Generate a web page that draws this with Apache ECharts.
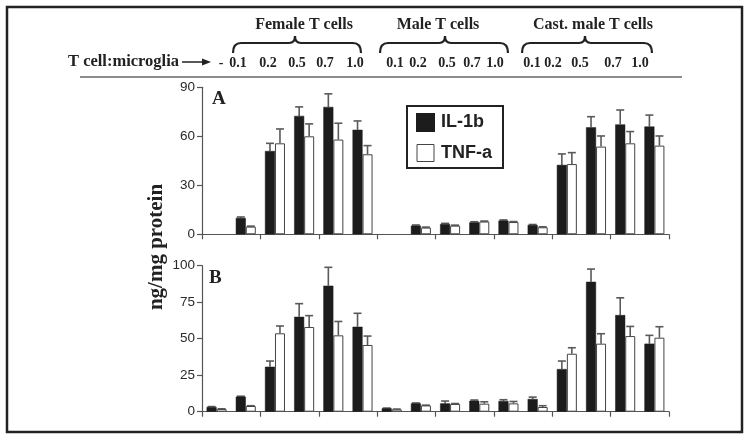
<!DOCTYPE html>
<html>
<head>
<meta charset="utf-8">
<script src="https://cdn.jsdelivr.net/npm/echarts@6/dist/echarts.min.js"></script>
<style>html,body{margin:0;padding:0;background:#fff}#c{width:750px;height:443px}</style>
</head>
<body>
<div id="c"></div>
<script>
// ---- data ----
const groupNames = ['Female T cells', 'Male T cells', 'Cast. male T cells'];
const ratioLabels = ['0.1', '0.2', '0.5', '0.7', '1.0'];
const headerLabels = ['-'].concat(ratioLabels, ratioLabels, ratioLabels);
const categories = ['ctrl', 'F0.1', 'F0.2', 'F0.5', 'F0.7', 'F1.0', 'M0.1', 'M0.2', 'M0.5', 'M0.7', 'M1.0', 'C0.1', 'C0.2', 'C0.5', 'C0.7', 'C1.0'];
const seriesNames = ['IL-1b', 'TNF-a'];

// Panel A
const A_IL1b     = [null, 10.0, 51.0, 72.5, 78.0, 64.0, null, 5.3, 6.3, 7.3, 8.4, 5.7, 42.5, 65.5, 67.3, 66.0];
const A_IL1b_err = [null, 0.6, 4.7, 5.5, 8.0, 5.4, null, 0.4, 0.4, 0.4, 0.4, 0.3, 6.7, 6.5, 8.8, 7.0];
const A_TNF      = [null, 4.7, 55.7, 60.0, 58.0, 49.0, null, 4.1, 5.3, 7.8, 7.5, 4.3, 43.0, 53.7, 55.7, 54.3];
const A_TNF_err  = [null, 0.3, 8.8, 7.6, 10.0, 5.3, null, 0.3, 0.3, 0.3, 0.3, 0.3, 7.0, 6.5, 7.2, 5.9];
const A_ticks = [0, 30, 60, 90];

// Panel B
const B_IL1b     = [3.2, 10.3, 30.8, 65.0, 86.3, 58.2, 2.3, 5.7, 5.7, 7.5, 7.3, 8.7, 29.2, 89.0, 66.2, 46.6];
const B_IL1b_err = [0.3, 0.3, 3.9, 9.0, 12.6, 9.2, 0.2, 0.3, 1.6, 0.5, 0.9, 1.3, 5.5, 8.7, 11.8, 5.7];
const B_TNF      = [1.8, 3.9, 53.7, 58.0, 52.3, 45.7, 1.6, 4.3, 5.3, 5.5, 5.7, 3.2, 39.7, 46.6, 51.8, 50.7];
const B_TNF_err  = [0.2, 0.2, 5.0, 7.8, 9.5, 6.1, 0.2, 0.2, 0.3, 1.3, 1.3, 0.9, 4.1, 6.8, 6.6, 7.5];
const B_ticks = [0, 25, 50, 75, 100];

// ---- layout / style ----
const BAR_W = 10;
const serif = '"Liberation Serif", "DejaVu Serif", serif';
const sans = '"Liberation Sans", Arial, sans-serif';
const axisColor = '#555';
const darkFill = '#1c1c1c';

const chart = echarts.init(document.getElementById('c'), null, {renderer: 'canvas'});

function errSeries(name, gridIdx, values, errs, side) {
  const data = values.map((v, i) => v == null ? [i, null, null] : [i, v, v + errs[i]]);
  return {
    type: 'custom', name: name + '_err', xAxisIndex: gridIdx, yAxisIndex: gridIdx, z: 1,
    silent: true, legendHoverLink: false,
    data: data,
    renderItem: function (params, api) {
      if (api.value(1) == null || isNaN(api.value(1))) return null;
      const base = api.coord([api.value(0), api.value(1)]);
      const top = api.coord([api.value(0), api.value(2)]);
      const x = base[0] + side * BAR_W / 2;
      const cap = 4;
      return {
        type: 'group',
        children: [
          {type: 'line', shape: {x1: x, y1: base[1], x2: x, y2: top[1]}, style: {stroke: '#5a5a5a', lineWidth: 1.6}},
          {type: 'line', shape: {x1: x - cap, y1: top[1], x2: x + cap, y2: top[1]}, style: {stroke: '#5a5a5a', lineWidth: 1.6}}
        ]
      };
    }
  };
}

function barSeries(name, gridIdx, values, dark) {
  return {
    type: 'bar', name: name, xAxisIndex: gridIdx, yAxisIndex: gridIdx,
    barWidth: BAR_W, barGap: '0%', z: 3,
    itemStyle: dark ? {color: darkFill, borderColor: darkFill, borderWidth: 0.5}
                    : {color: '#ffffff', borderColor: '#444', borderWidth: 1},
    data: values
  };
}

function xAx(gridIdx) {
  return {
    type: 'category', gridIndex: gridIdx, data: categories, boundaryGap: true,
    axisLine: {lineStyle: {color: axisColor, width: 1.2}},
    axisTick: {show: true, length: 5, lineStyle: {color: axisColor, width: 1.2}},
    axisLabel: {show: false}
  };
}
function yAx(gridIdx, ticks) {
  return {
    type: 'value', gridIndex: gridIdx, min: ticks[0], max: ticks[ticks.length - 1],
    interval: ticks[1] - ticks[0],
    axisLine: {show: true, lineStyle: {color: axisColor, width: 1.2}},
    axisTick: {show: true, length: 5, lineStyle: {color: axisColor, width: 1.2}},
    axisLabel: {color: '#2a2a2a', fontSize: 13.5, fontFamily: sans, margin: 7},
    splitLine: {show: false}
  };
}

// header graphic
const headerX = [221, 238, 268, 297, 325, 355, 395, 418, 447, 472, 495, 532, 553, 580, 613, 640];
const braces = [[233, 295, 361, 304], [380, 445, 508, 438], [522, 585, 652, 593]];
const graphics = [];
const braceStyle = {fill: 'none', stroke: '#222', lineWidth: 2.2};
graphics.push({type: 'rect', shape: {x: 7, y: 7, width: 735, height: 425}, style: {fill: 'none', stroke: '#222', lineWidth: 2.5}, z: 100});
graphics.push({type: 'line', shape: {x1: 80, y1: 77, x2: 682, y2: 77}, style: {stroke: '#666', lineWidth: 1.3}});
groupNames.forEach((g, i) => {
  const b = braces[i];
  graphics.push({type: 'text', x: b[3], y: 25, style: {text: g, font: 'bold 16px ' + serif, fill: '#222', textAlign: 'center', textVerticalAlign: 'middle'}});
  const x1 = b[0], xm = b[1], x2 = b[2], yE = 53, yH = 43, yP = 36;
  graphics.push({type: 'bezierCurve', shape: {x1: x1, y1: yE, cpx1: x1, cpy1: yH, x2: x1 + 8, y2: yH}, style: braceStyle});
  graphics.push({type: 'line', shape: {x1: x1 + 8, y1: yH, x2: xm - 6, y2: yH}, style: braceStyle});
  graphics.push({type: 'bezierCurve', shape: {x1: xm - 6, y1: yH, cpx1: xm, cpy1: yH, x2: xm, y2: yP}, style: braceStyle});
  graphics.push({type: 'bezierCurve', shape: {x1: xm, y1: yP, cpx1: xm, cpy1: yH, x2: xm + 6, y2: yH}, style: braceStyle});
  graphics.push({type: 'line', shape: {x1: xm + 6, y1: yH, x2: x2 - 8, y2: yH}, style: braceStyle});
  graphics.push({type: 'bezierCurve', shape: {x1: x2 - 8, y1: yH, cpx1: x2, cpy1: yH, x2: x2, y2: yE}, style: braceStyle});
});
headerLabels.forEach((t, i) => {
  graphics.push({type: 'text', x: headerX[i], y: 63, style: {text: t, font: 'bold 14px ' + serif, fill: '#222', textAlign: 'center', textVerticalAlign: 'middle'}});
});
graphics.push({type: 'text', x: 68, y: 62, style: {text: 'T cell:microglia', font: 'bold 16.5px ' + serif, fill: '#222', textAlign: 'left', textVerticalAlign: 'middle'}});
graphics.push({type: 'line', shape: {x1: 182, y1: 62, x2: 205, y2: 62}, style: {stroke: '#222', lineWidth: 1.5}});
graphics.push({type: 'polygon', shape: {points: [[211, 62], [202, 58.5], [202, 65.5]]}, style: {fill: '#222'}});
graphics.push({type: 'text', x: 212, y: 99, style: {text: 'A', font: 'bold 19px ' + serif, fill: '#222', textVerticalAlign: 'middle'}});
graphics.push({type: 'text', x: 209, y: 278, style: {text: 'B', font: 'bold 19px ' + serif, fill: '#222', textVerticalAlign: 'middle'}});
graphics.push({type: 'text', x: 157, y: 247, rotation: Math.PI / 2, style: {text: 'ng/mg protein', font: 'bold 21px ' + serif, fill: '#222', textAlign: 'center', textVerticalAlign: 'middle'}});

const option = {
  animation: false,
  backgroundColor: '#fff',
  grid: [
    {left: 202, right: 81, top: 87.3, height: 147},
    {left: 202, right: 81, top: 265.7, height: 146}
  ],
  xAxis: [xAx(0), xAx(1)],
  yAxis: [yAx(0, A_ticks), yAx(1, B_ticks)],
  legend: {
    data: [
      {name: seriesNames[0], itemStyle: {color: darkFill, borderColor: darkFill}},
      {name: seriesNames[1], itemStyle: {color: '#fff', borderColor: '#444', borderWidth: 1}}
    ],
    orient: 'vertical', left: 407, top: 106,
    borderColor: '#222', borderWidth: 2, backgroundColor: '#fff',
    padding: [7, 11, 6, 9], itemWidth: 17, itemHeight: 17, itemGap: 12,
    icon: 'rect', selectedMode: false,
    textStyle: {fontFamily: sans, fontWeight: 'bold', fontSize: 18, color: '#222', padding: [0, 0, 0, 2]}
  },
  graphic: graphics,
  series: [
    barSeries(seriesNames[0], 0, A_IL1b, true),
    barSeries(seriesNames[1], 0, A_TNF, false),
    errSeries(seriesNames[0], 0, A_IL1b, A_IL1b_err, -1),
    errSeries(seriesNames[1], 0, A_TNF, A_TNF_err, 1),
    barSeries(seriesNames[0], 1, B_IL1b, true),
    barSeries(seriesNames[1], 1, B_TNF, false),
    errSeries(seriesNames[0], 1, B_IL1b, B_IL1b_err, -1),
    errSeries(seriesNames[1], 1, B_TNF, B_TNF_err, 1)
  ]
};
chart.setOption(option);
</script>
</body>
</html>
